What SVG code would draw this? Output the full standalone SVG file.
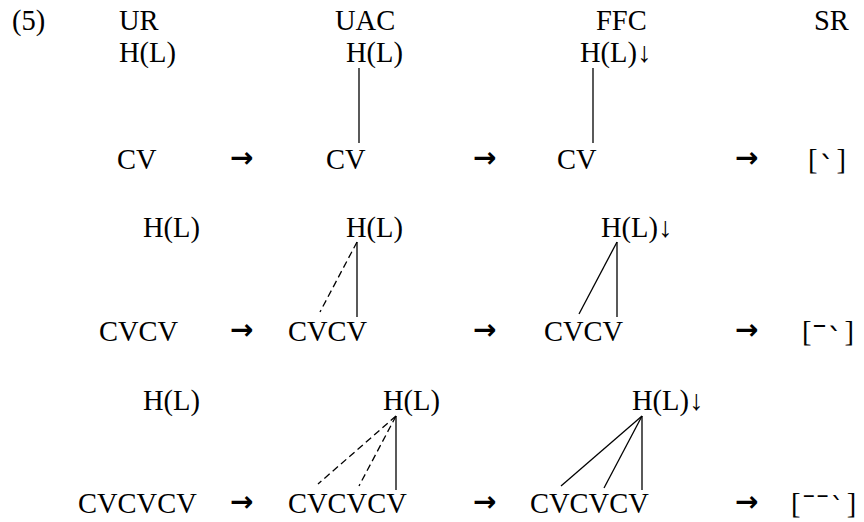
<svg xmlns="http://www.w3.org/2000/svg" width="864" height="522" viewBox="0 0 864 522">
<style>
text{font-family:"Liberation Serif","Times New Roman",serif;font-size:28.5px;fill:#000}
.ar{font-family:"DejaVu Sans",sans-serif;font-size:28px;font-weight:bold}
.mc{font-family:"Liberation Serif","DejaVu Serif",serif;font-size:36px}
.gr{font-family:"DejaVu Sans",sans-serif;font-size:30px}
.mc3{font-family:"Liberation Serif","DejaVu Serif",serif;font-size:32px}
.gr3{font-family:"DejaVu Sans",sans-serif;font-size:26px}
.s{stroke:#000;stroke-width:1.3;fill:none}
.d{stroke:#000;stroke-width:1.3;fill:none;stroke-dasharray:7 4}
</style>
<rect width="864" height="522" fill="#fff"/>
<g id="titles">
<text x="12" y="30">(5)</text>
<text x="119" y="30">UR</text>
<text x="335" y="30">UAC</text>
<text x="596" y="30">FFC</text>
<text x="814" y="30">SR</text>
</g>
<g id="row1">
<g id="r1-ur"><text x="119" y="62">H(L)</text><text x="117" y="169">CV</text></g>
<g id="r1-uac"><text x="346" y="62">H(L)</text><text x="326" y="169">CV</text></g>
<g id="r1-ffc"><text x="580" y="62">H(L)↓</text><text x="557" y="169">CV</text></g>
<g id="r1-sr"><text x="808" y="169" letter-spacing="2">[<tspan class="gr" dy="9">ˋ</tspan><tspan dy="-9">]</tspan></text></g>
<text class="ar" x="230" y="167">→</text><text class="ar" x="473" y="167">→</text><text class="ar" x="735" y="167">→</text>
</g>
<g id="row2">
<g id="r2-ur"><text x="143" y="237">H(L)</text><text x="99" y="341">CVCV</text></g>
<g id="r2-uac"><text x="346" y="237">H(L)</text><text x="288" y="341">CVCV</text></g>
<g id="r2-ffc"><text x="601" y="237">H(L)↓</text><text x="544" y="341">CVCV</text></g>
<g id="r2-sr"><text x="802" y="341" letter-spacing="2">[<tspan class="mc" dy="6">ˉ</tspan><tspan class="gr" dy="3">ˋ</tspan><tspan dy="-9">]</tspan></text></g>
<text class="ar" x="230" y="339">→</text><text class="ar" x="473" y="339">→</text><text class="ar" x="735" y="339">→</text>
</g>
<g id="row3">
<g id="r3-ur"><text x="143" y="410">H(L)</text><text x="78" y="513">CVCVCV</text></g>
<g id="r3-uac"><text x="383" y="410">H(L)</text><text x="288" y="513">CVCVCV</text></g>
<g id="r3-ffc"><text x="632" y="410">H(L)↓</text><text x="530" y="513">CVCVCV</text></g>
<g id="r3-sr"><text x="791" y="513" letter-spacing="3">[<tspan class="mc3" dy="2">ˉˉ</tspan><tspan class="gr3" dy="2">ˋ</tspan><tspan dy="-4">]</tspan></text></g>
<text class="ar" x="230" y="511">→</text><text class="ar" x="473" y="511">→</text><text class="ar" x="735" y="511">→</text>
</g>
<g id="connectors">
<line class="s" x1="359" y1="68" x2="359" y2="143"/>
<line class="s" x1="593" y1="68" x2="593" y2="143"/>
<line class="s" x1="357" y1="242" x2="357" y2="317"/>
<line class="d" x1="357" y1="242" x2="320" y2="312"/>
<line class="s" x1="617" y1="242" x2="617" y2="317"/>
<line class="s" x1="617" y1="242" x2="579" y2="314"/>
<line class="s" x1="396" y1="416" x2="396" y2="490"/>
<line class="d" x1="396" y1="416" x2="318" y2="484"/>
<line class="d" x1="396" y1="416" x2="359" y2="486"/>
<line class="s" x1="642" y1="416" x2="642" y2="490"/>
<line class="s" x1="642" y1="416" x2="561" y2="486"/>
<line class="s" x1="642" y1="416" x2="604" y2="488"/>
</g>
</svg>
